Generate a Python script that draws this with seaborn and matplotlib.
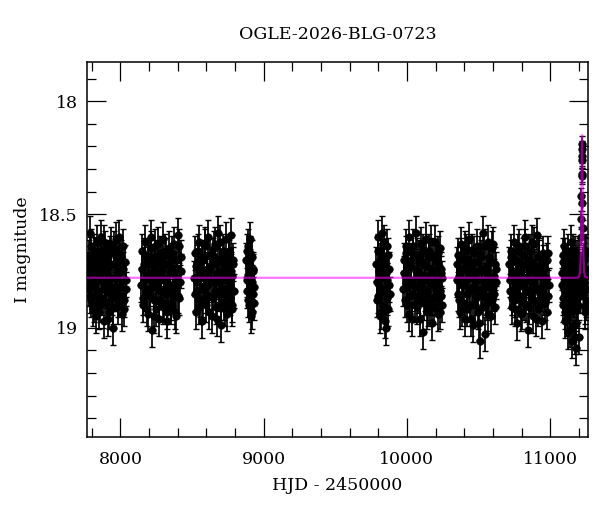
import numpy as np
import pandas as pd
import matplotlib
matplotlib.use("Agg")
import matplotlib.pyplot as plt
from matplotlib.ticker import MultipleLocator, FormatStrFormatter
import seaborn as sns

# observing seasons (HJD - 2450000, I mag)
s1_t = [7776, 7783, 7789, 7795, 7802, 7808, 7815, 7821, 7828, 7834,
        7841, 7847, 7854, 7860, 7867, 7874, 7880, 7887, 7893, 7900,
        7906, 7913, 7920, 7926, 7933, 7939, 7946, 7953, 7959, 7966,
        7972, 7979, 7986, 7992, 7999, 8006, 8013, 8020, 8028, 8037]
s1_m = [18.74, 18.83, 18.58, 18.88, 18.71, 18.92, 18.66, 18.80, 18.95, 18.62,
        18.77, 18.86, 18.68, 18.90, 18.60, 18.79, 18.73, 18.97, 18.65, 18.84,
        18.76, 18.69, 18.93, 18.81, 18.63, 18.87, 19.00, 18.72, 18.78, 18.61,
        18.85, 18.70, 18.91, 18.67, 18.82, 18.75, 18.94, 18.64, 18.88, 18.79]
s1b_t = [7779, 7786, 7792, 7798, 7805, 7811, 7818, 7824, 7831, 7837,
         7844, 7851, 7857, 7864, 7870, 7877, 7884, 7890, 7897, 7903,
         7910, 7916, 7923, 7930, 7936, 7943, 7949, 7956, 7962, 7969,
         7976, 7982, 7989, 7995, 8002, 8009, 8016, 8024, 8032, 8040]
s1b_m = [18.69, 18.86, 18.77, 18.64, 18.81, 18.73, 18.90, 18.68, 18.76, 18.84,
         18.71, 18.93, 18.79, 18.66, 18.87, 18.74, 18.62, 18.82, 18.89, 18.70,
         18.80, 18.96, 18.73, 18.67, 18.85, 18.78, 18.91, 18.65, 18.83, 18.72,
         18.77, 18.88, 18.60, 18.81, 18.69, 18.86, 18.74, 18.92, 18.71, 18.83]

s2_t = [8146, 8153, 8160, 8167, 8174, 8181, 8188, 8195, 8202, 8209,
        8216, 8223, 8230, 8237, 8244, 8251, 8258, 8265, 8272, 8279,
        8286, 8293, 8300, 8307, 8314, 8321, 8328, 8335, 8342, 8349,
        8356, 8363, 8370, 8377, 8384, 8391, 8398, 8405, 8412, 8420]
s2_m = [18.81, 18.66, 18.90, 18.72, 18.62, 18.85, 18.77, 18.94, 18.69, 18.83,
        18.60, 19.01, 18.75, 18.88, 18.64, 18.92, 18.71, 18.79, 18.96, 18.67,
        18.84, 18.73, 18.61, 18.89, 18.78, 18.68, 18.93, 18.82, 18.65, 18.76,
        18.91, 18.70, 18.86, 18.63, 18.80, 18.95, 18.74, 18.59, 18.87, 18.69]
s2b_t = [8149, 8156, 8163, 8170, 8177, 8184, 8191, 8198, 8205, 8212,
         8219, 8226, 8233, 8240, 8247, 8254, 8261, 8268, 8275, 8282,
         8289, 8296, 8303, 8310, 8317, 8324, 8331, 8338, 8345, 8352,
         8359, 8366, 8373, 8380, 8387, 8394, 8401, 8408, 8415, 8423]
s2b_m = [18.74, 18.87, 18.79, 18.68, 18.83, 18.92, 18.71, 18.78, 18.86, 18.65,
         18.80, 18.73, 18.95, 18.69, 18.82, 18.77, 18.63, 18.88, 18.75, 18.84,
         18.70, 18.91, 18.79, 18.66, 18.85, 18.97, 18.72, 18.81, 18.76, 18.89,
         18.67, 18.83, 18.74, 18.93, 18.70, 18.78, 18.86, 18.64, 18.80, 18.75]

s3_t = [8517, 8524, 8531, 8538, 8545, 8552, 8559, 8566, 8573, 8580,
        8587, 8594, 8601, 8608, 8615, 8622, 8629, 8636, 8643, 8650,
        8657, 8664, 8671, 8678, 8685, 8692, 8699, 8706, 8713, 8720,
        8727, 8734, 8741, 8748, 8755, 8762, 8769, 8776, 8782, 8787]
s3_m = [18.78, 18.67, 18.93, 18.84, 18.71, 18.62, 18.88, 18.75, 18.97, 18.69,
        18.82, 18.64, 18.90, 18.77, 18.60, 18.86, 18.73, 18.95, 18.68, 18.80,
        18.63, 18.91, 18.76, 18.58, 18.85, 18.70, 18.99, 18.79, 18.66, 18.89,
        18.74, 18.61, 18.94, 18.83, 18.69, 18.87, 18.59, 18.77, 18.92, 18.72]
s3b_t = [8520, 8527, 8534, 8541, 8548, 8555, 8562, 8569, 8576, 8583,
         8590, 8597, 8604, 8611, 8618, 8625, 8632, 8639, 8646, 8653,
         8660, 8667, 8674, 8681, 8688, 8695, 8702, 8709, 8716, 8723,
         8730, 8737, 8744, 8751, 8758, 8765, 8772, 8779, 8784, 8790]
s3b_m = [18.85, 18.73, 18.80, 18.66, 18.91, 18.76, 18.83, 18.70, 18.88, 18.78,
         18.63, 18.86, 18.74, 18.81, 18.93, 18.68, 18.79, 18.72, 18.87, 18.65,
         18.84, 18.77, 18.96, 18.71, 18.80, 18.62, 18.89, 18.75, 18.83, 18.69,
         18.92, 18.78, 18.73, 18.86, 18.66, 18.81, 18.75, 18.90, 18.70, 18.84]

s4_t = [8879, 8884, 8889, 8893, 8898, 8902, 8907, 8911, 8916, 8921, 8926, 8932]
s4_m = [18.70, 18.84, 18.64, 18.77, 18.90, 18.73, 18.67, 18.86, 18.80, 18.93, 18.75, 18.82]
s4b_t = [8881, 8886, 8891, 8896, 8900, 8905, 8909, 8914, 8918, 8923, 8929, 8935]
s4b_m = [18.79, 18.66, 18.88, 18.72, 18.83, 18.61, 18.95, 18.78, 18.69, 18.85, 18.74, 18.89]

s5_t = [9786, 9792, 9798, 9804, 9810, 9816, 9822, 9828,
        9834, 9840, 9846, 9852, 9858, 9864, 9870, 9876]
s5_m = [18.72, 18.88, 18.60, 18.81, 18.95, 18.67, 18.77, 18.58,
        18.90, 18.70, 18.84, 19.00, 18.64, 18.79, 18.92, 18.74]
s5b_t = [9789, 9795, 9801, 9807, 9813, 9819, 9825, 9831,
         9837, 9843, 9849, 9855, 9861, 9867, 9873, 9879]
s5b_m = [18.80, 18.66, 18.86, 18.75, 18.70, 18.93, 18.83, 18.72,
         18.78, 18.62, 18.97, 18.76, 18.87, 18.68, 18.81, 18.85]

s6_t = [9976, 9983, 9990, 9997, 10004, 10011, 10018, 10025, 10032, 10039,
        10046, 10053, 10060, 10067, 10074, 10081, 10088, 10095, 10102, 10109,
        10116, 10123, 10130, 10137, 10144, 10151, 10158, 10165, 10172, 10179,
        10186, 10193, 10200, 10207, 10214, 10221, 10228, 10234, 10239, 10244]
s6_m = [18.83, 18.70, 18.76, 18.64, 18.90, 18.79, 18.60, 18.86, 18.73, 18.96,
        18.67, 18.82, 18.58, 18.91, 18.75, 18.69, 18.88, 18.63, 18.80, 19.02,
        18.72, 18.85, 18.61, 18.93, 18.77, 18.66, 18.89, 18.74, 18.98, 18.68,
        18.81, 18.62, 18.87, 18.71, 18.94, 18.78, 18.65, 18.84, 18.76, 18.90]
s6b_t = [9979, 9986, 9993, 10000, 10007, 10014, 10021, 10028, 10035, 10042,
         10049, 10056, 10063, 10070, 10077, 10084, 10091, 10098, 10105, 10112,
         10119, 10126, 10133, 10140, 10147, 10154, 10161, 10168, 10175, 10182,
         10189, 10196, 10203, 10210, 10217, 10224, 10231, 10236, 10241, 10246]
s6b_m = [18.76, 18.88, 18.67, 18.82, 18.73, 18.94, 18.79, 18.70, 18.85, 18.64,
         18.81, 18.90, 18.75, 18.68, 18.86, 18.78, 18.96, 18.71, 18.83, 18.66,
         18.89, 18.77, 18.73, 18.84, 18.92, 18.69, 18.80, 18.62, 18.87, 18.75,
         18.91, 18.79, 18.70, 18.85, 18.67, 18.82, 18.93, 18.74, 18.86, 18.78]

s7_t = [10349, 10356, 10363, 10370, 10377, 10384, 10391, 10398, 10405, 10412,
        10419, 10426, 10433, 10440, 10447, 10454, 10461, 10468, 10475, 10482,
        10489, 10496, 10503, 10510, 10517, 10524, 10531, 10538, 10545, 10552,
        10559, 10566, 10573, 10580, 10587, 10594, 10601, 10608, 10614, 10620]
s7_m = [18.79, 18.68, 18.88, 18.74, 18.63, 18.92, 18.81, 18.70, 18.96, 18.66,
        18.85, 18.76, 18.61, 18.90, 18.72, 18.83, 18.99, 18.67, 18.78, 18.87,
        18.64, 18.93, 18.75, 19.06, 18.69, 18.84, 18.58, 18.80, 19.03, 18.73,
        18.89, 18.62, 18.86, 18.71, 18.95, 18.65, 18.82, 18.77, 18.91, 18.74]
s7b_t = [10352, 10359, 10366, 10373, 10380, 10387, 10394, 10401, 10408, 10415,
         10422, 10429, 10436, 10443, 10450, 10457, 10464, 10471, 10478, 10485,
         10492, 10499, 10506, 10513, 10520, 10527, 10534, 10541, 10548, 10555,
         10562, 10569, 10576, 10583, 10590, 10597, 10604, 10611, 10617, 10623]
s7b_m = [18.72, 18.85, 18.77, 18.93, 18.68, 18.81, 18.74, 18.89, 18.65, 18.79,
         18.92, 18.70, 18.84, 18.77, 18.96, 18.66, 18.82, 18.75, 18.90, 18.71,
         18.86, 18.79, 18.98, 18.67, 18.83, 18.74, 18.91, 18.64, 18.80, 18.87,
         18.76, 18.94, 18.69, 18.82, 18.78, 18.88, 18.63, 18.85, 18.72, 18.80]

s8_t = [10714, 10721, 10728, 10735, 10742, 10749, 10756, 10763, 10770, 10777,
        10784, 10791, 10798, 10805, 10812, 10819, 10826, 10833, 10840, 10847,
        10854, 10861, 10868, 10875, 10882, 10889, 10896, 10903, 10910, 10917,
        10924, 10931, 10938, 10945, 10952, 10959, 10966, 10973, 10980, 10986]
s8_m = [18.72, 18.84, 18.66, 18.91, 18.77, 18.62, 18.88, 18.70, 18.98, 18.80,
        18.64, 18.86, 18.75, 18.93, 18.68, 18.82, 18.60, 18.90, 18.73, 19.01,
        18.79, 18.66, 18.87, 18.71, 18.95, 18.63, 18.83, 18.76, 18.59, 18.92,
        18.69, 18.85, 18.74, 18.97, 18.67, 18.81, 18.89, 18.78, 18.70, 18.86]
s8b_t = [10717, 10724, 10731, 10738, 10745, 10752, 10759, 10766, 10773, 10780,
         10787, 10794, 10801, 10808, 10815, 10822, 10829, 10836, 10843, 10850,
         10857, 10864, 10871, 10878, 10885, 10892, 10899, 10906, 10913, 10920,
         10927, 10934, 10941, 10948, 10955, 10962, 10969, 10976, 10983, 10989]
s8b_m = [18.79, 18.69, 18.87, 18.75, 18.83, 18.92, 18.71, 18.80, 18.66, 18.86,
         18.77, 18.94, 18.72, 18.81, 18.89, 18.64, 18.84, 18.78, 18.70, 18.91,
         18.75, 18.85, 18.62, 18.80, 18.88, 18.73, 18.96, 18.77, 18.83, 18.68,
         18.90, 18.76, 18.82, 18.71, 18.87, 18.74, 18.79, 18.93, 18.67, 18.81]

s9_t = [11082, 11087, 11091, 11096, 11100, 11105, 11109, 11114, 11118, 11123,
        11127, 11132, 11136, 11141, 11145, 11150, 11154, 11159, 11163, 11168,
        11172, 11177, 11181, 11186, 11190, 11195, 11199, 11204,
        11236, 11239, 11242, 11245, 11248, 11251]
s9_m = [18.81, 18.68, 18.90, 18.74, 18.64, 18.97, 18.78, 18.70, 18.88, 19.02,
        18.66, 18.84, 18.75, 18.93, 18.62, 19.06, 18.80, 18.71, 18.99, 18.86,
        18.67, 19.09, 18.77, 18.92, 18.69, 18.83, 19.04, 18.73,
        18.84, 18.70, 18.93, 18.77, 18.66, 18.88]
s9b_t = [11084, 11089, 11093, 11098, 11102, 11107, 11111, 11116, 11120, 11125,
         11129, 11134, 11138, 11143, 11147, 11152, 11156, 11161, 11165, 11170,
         11174, 11179, 11183, 11188, 11192, 11197, 11201, 11206, 11209,
         11238, 11241, 11244, 11247, 11250, 11253]
s9b_m = [18.76, 18.87, 18.71, 18.83, 18.93, 18.68, 18.85, 18.79, 18.96, 18.73,
         18.89, 18.77, 19.01, 18.70, 18.84, 18.92, 18.66, 18.81, 18.88, 19.04,
         18.75, 18.86, 18.98, 18.72, 18.90, 18.79, 18.68, 18.82, 18.86,
         18.78, 18.91, 18.68, 18.83, 18.74, 18.89]

# the event itself
peak_t = [11212, 11214, 11216, 11217, 11218, 11219, 11220, 11221,
          11222, 11223, 11224, 11225, 11226, 11228, 11230, 11233]
peak_m = [18.76, 18.70, 18.60, 18.52, 18.42, 18.33, 18.26, 18.21,
          18.19, 18.24, 18.32, 18.45, 18.56, 18.68, 18.74, 18.80]

base_err = 0.075
peak_err = 0.035

# model curve
model_t = [7769, 11190, 11203, 11209, 11213, 11216, 11218, 11221, 11223,
           11225, 11228, 11230, 11233, 11237, 11243, 11262]
model_m = [18.78, 18.78, 18.775, 18.75, 18.69, 18.58, 18.45, 18.25, 18.15,
           18.25, 18.45, 18.58, 18.69, 18.75, 18.775, 18.78]

seasons = [(s1_t, s1_m), (s1b_t, s1b_m), (s2_t, s2_m), (s2b_t, s2b_m),
           (s3_t, s3_m), (s3b_t, s3b_m), (s4_t, s4_m), (s4b_t, s4b_m),
           (s5_t, s5_m), (s5b_t, s5b_m), (s6_t, s6_m), (s6b_t, s6b_m),
           (s7_t, s7_m), (s7b_t, s7b_m), (s8_t, s8_m), (s8b_t, s8b_m),
           (s9_t, s9_m), (s9b_t, s9b_m)]
frames = []
for t, m in seasons:
    assert len(t) == len(m)
    frames.append(pd.DataFrame({"hjd": t, "mag": m, "err": base_err}))
frames.append(pd.DataFrame({"hjd": peak_t, "mag": peak_m, "err": peak_err}))
df = pd.concat(frames, ignore_index=True)
model = pd.DataFrame({"hjd": model_t, "mag": model_m})

sns.set_style("ticks")
plt.rcParams["font.family"] = ["DejaVu Serif"]
for key in ["text.color", "axes.labelcolor", "xtick.color", "ytick.color", "axes.edgecolor"]:
    plt.rcParams[key] = "black"

fig, ax = plt.subplots(figsize=(6.0, 5.12), dpi=100)
fig.subplots_adjust(left=0.1455, right=0.9795, top=0.878, bottom=0.147)

eb = ax.errorbar(df["hjd"], df["mag"], yerr=df["err"], fmt="none", ecolor="black",
                 elinewidth=1.25, capsize=2.5, capthick=1.0, zorder=2)
for cap in eb[1]:
    cap.set_color("#555555")
sns.scatterplot(data=df, x="hjd", y="mag", ax=ax, color="black", s=30,
                edgecolor="black", linewidth=0.4, zorder=3, legend=False)
sns.lineplot(data=model, x="hjd", y="mag", ax=ax, sort=False, color="#ff00ff",
             alpha=0.55, linewidth=1.6, zorder=4, estimator=None)

ax.set_xlim(7769, 11262)
ax.set_ylim(19.482, 17.829)
ax.xaxis.set_major_locator(MultipleLocator(1000))
ax.xaxis.set_minor_locator(MultipleLocator(200))
ax.yaxis.set_major_locator(MultipleLocator(0.5))
ax.yaxis.set_minor_locator(MultipleLocator(0.1))
ax.yaxis.set_major_formatter(FormatStrFormatter("%g"))

ax.tick_params(which="both", direction="in", top=True, right=True,
               color="black", width=0.9, labelsize=12.5)
ax.tick_params(which="major", length=13.5)
ax.tick_params(which="minor", length=6.5)
ax.tick_params(axis="x", which="major", pad=10)
ax.tick_params(axis="y", which="major", pad=7)
for sp in ax.spines.values():
    sp.set_linewidth(1.1)
    sp.set_color("black")

ax.set_xlabel("HJD - 2450000", fontsize=12.5, labelpad=7)
ax.set_ylabel("I magnitude", fontsize=12.5, labelpad=6)
ax.set_title("OGLE-2026-BLG-0723", fontsize=12.5, pad=17)

fig.savefig("out.png", dpi=100)
